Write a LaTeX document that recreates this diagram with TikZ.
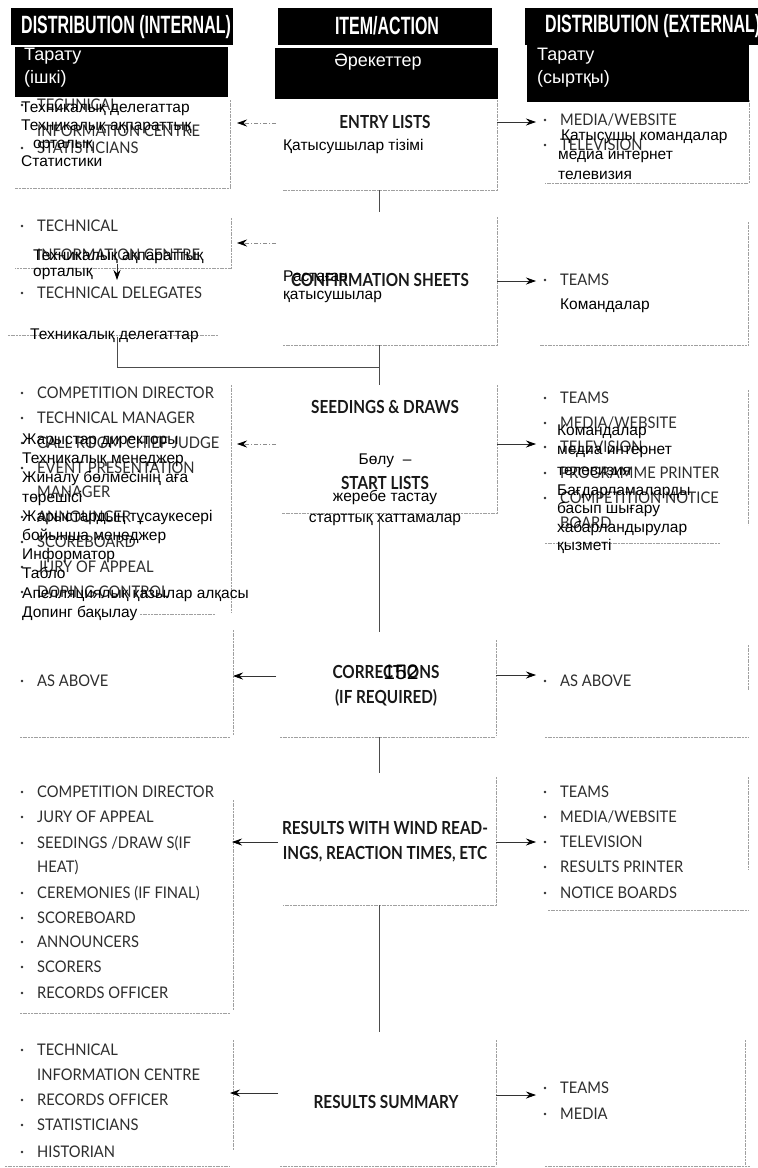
\documentclass[tikz,border=0pt]{standalone}
\usepackage{fontspec}
\setmainfont{Liberation Sans}
\newfontfamily\kzf{Liberation Sans}
\newfontfamily\hdf[FakeStretch=0.64]{Liberation Sans}
\newfontfamily\gsf[FakeStretch=0.92]{Lato}
\newfontfamily\gtf[FakeStretch=0.85]{Lato}
\usetikzlibrary{arrows.meta}
\definecolor{ink}{HTML}{2E2E2E}
\definecolor{rule}{HTML}{A0A0A0}

% list helpers: bulleted line, continuation line, Kazakh line
\newcommand\enli[4]{%
  \node[en] (#1) at (#2,#3+5.5) {#4};
  \node[dot] (#1b) at (#2-15,#3) {};}
\newcommand\enln[4]{\node[en] (#1) at (#2,#3+5.5) {#4};}
\newcommand\kzl[4]{\node[kz] (#1) at (#2,#3) {#4};}

\begin{document}
\begin{tikzpicture}[x=1pt,y=-1pt,
  en/.style={font=\gsf\fontsize{16}{18}\selectfont, text=ink, inner sep=0pt, anchor=base west},
  kz/.style={font=\kzf\fontsize{15.5}{18}\selectfont, text=black, inner sep=0pt, anchor=mid west},
  kzc/.style={kz, anchor=mid},
  ttl/.style={font=\gtf\bfseries\fontsize{18}{20}\selectfont, text=black!90, inner sep=0pt, anchor=base},
  hd/.style={fill=black, inner sep=0pt, anchor=north west},
  hdtext/.style={font=\hdf\bfseries\fontsize{25}{26}\selectfont, text=white, inner sep=0pt},
  hdkz/.style={font=\kzf\fontsize{18}{22}\selectfont, text=white, inner sep=0pt, anchor=mid west},
  dot/.style={circle, fill=ink, inner sep=0pt, minimum size=2.8pt},
  edge/.style={rule, line width=0.6pt, dash pattern=on 2pt off 0.7pt},
  link/.style={black!70, line width=0.6pt},
  arr/.style={black!80, line width=0.7pt, -{Stealth[length=10pt,width=7pt,black]}},
  darr/.style={arr, black!45, dash pattern=on 4pt off 2pt on 1pt off 2pt},
]
\fill[white] (0,0) rectangle (758,1168);
\useasboundingbox (0,0) rectangle (758,1168);

% ---------- column headers ----------
\node[hd, minimum width=222pt, minimum height=37pt] (hL1) at (11,8) {};
\node[hd, minimum width=213pt, minimum height=50pt] (hL2) at (15,47) {};
\node[hd, minimum width=214pt, minimum height=37pt] (hM1) at (278,8) {};
\node[hd, minimum width=223pt, minimum height=51pt] (hM2) at (275,48) {};
\node[hd, minimum width=240pt, minimum height=37pt] (hR1) at (525,8) {};
\node[hd, minimum width=222pt, minimum height=57pt] (hR2) at (527,45) {};

\node[hdtext, anchor=west] (tL1) at (21,27) {DISTRIBUTION (INTERNAL)};
\node[hdtext] (tM1) at (387,26) {ITEM/ACTION};
\node[hdtext, anchor=west] (tR1) at (545,26) {DISTRIBUTION (EXTERNAL)};
\node[hdkz] (tL2a) at (24,58) {Тарату};
\node[hdkz] (tL2b) at (24,81) {(ішкі)};
\node[hdkz, anchor=mid] (tM2) at (378,64) {Әрекеттер};
\node[hdkz] (tR2a) at (537,58) {Тарату};
\node[hdkz] (tR2b) at (537,81) {(сыртқы)};

% ---------- row 1: entry lists ----------
\draw[edge] (230,100) -- (230,188) -- (15,188);
\draw[edge] (497,100) -- (497,190) -- (283,190);
\draw[edge] (749,100) -- (749,183) -- (545,183);

\enli{l1a}{37}{105}{TECHNICAL}
\enln{l1b}{37}{131}{INFORMATION CENTRE}
\enli{l1c}{37}{148}{STATISTICIANS}
\kzl{k1a}{21}{110}{Техникалық делегаттар}
\kzl{k1b}{21}{128}{Техникалық ақпараттық}
\kzl{k1c}{33}{146}{орталық}
\kzl{k1d}{21}{164}{Статистики}

\node[ttl] (m1) at (385,128.5) {ENTRY LISTS};
\kzl{mk1}{283}{148}{Қатысушылар тізімі}

\enli{r1a}{560}{120}{MEDIA/WEBSITE}
\enli{r1b}{560}{145}{TELEVISION}
\kzl{rk1a}{561}{138}{Қатысушы командалар}
\kzl{rk1b}{558}{157}{медиа интернет}
\kzl{rk1c}{558}{177}{телевизия}

\coordinate (a1s) at (276,123); \coordinate (a1t) at (237,123);
\draw[darr] (a1s) -- (a1t);
\coordinate (b1s) at (497,122); \coordinate (b1t) at (536,122);
\draw[arr] (b1s) -- (b1t);

\coordinate (v1s) at (379,190); \coordinate (v1t) at (379,212);
\draw[link] (v1s) -- (v1t);

% ---------- row 2: confirmation sheets ----------
\draw[edge] (231,218) -- (231,268) -- (15,268);
\draw[edge] (8,335) -- (218,335);
\draw[edge] (497,217) -- (497,345) -- (283,345);
\draw[edge] (748,222) -- (748,345) -- (540,345);

\enli{l2a}{37}{226}{TECHNICAL}
\enln{l2b}{37}{255}{INFORMATION CENTRE}
\enli{l2c}{37}{293}{TECHNICAL DELEGATES}
\kzl{k2a}{33}{258}{Техникалық ақпараттық}
\kzl{k2b}{33}{274}{орталық}
\kzl{k2c}{30}{337}{Техникалық делегаттар}

\node[ttl] (m2) at (380,286.5) {CONFIRMATION SHEETS};
\kzl{mk2a}{283}{279}{Растаған}
\kzl{mk2b}{283}{297}{қатысушылар}

\enli{r2a}{560}{280}{TEAMS}
\kzl{rk2a}{560}{307}{Командалар}

\coordinate (a2s) at (276,243); \coordinate (a2t) at (237,243);
\draw[darr] (a2s) -- (a2t);
\coordinate (b2s) at (497,281); \coordinate (b2t) at (536,281);
\draw[arr] (b2s) -- (b2t);

\coordinate (tic) at (117,264); \coordinate (tdl) at (117,280);
\draw[arr] (tic) -- (tdl);
\coordinate (j1) at (117,337); \coordinate (j2) at (117,367); \coordinate (j3) at (379,367);
\draw[link] (j1) -- (j2) -- (j3);
\coordinate (v2s) at (379,345); \coordinate (v2t) at (379,385);
\draw[link] (v2s) -- (v2t);

% ---------- row 3: seedings & draws ----------
\draw[edge] (231,385) -- (231,612);
\draw[edge] (497,385) -- (497,513) -- (282,513);
\draw[edge] (748,390) -- (748,525);
\draw[edge] (545,543) -- (720,543);

\enli{l3a}{37}{393}{COMPETITION DIRECTOR}
\enli{l3b}{37}{418}{TECHNICAL MANAGER}
\enli{l3c}{37}{443}{CALL ROOM CHIEF JUDGE}
\enli{l3d}{37}{468}{EVENT PRESENTATION}
\enln{l3e}{37}{492}{MANAGER}
\enli{l3f}{37}{517}{ANNOUNCER}
\enli{l3g}{37}{542}{SCOREBOARD}
\enli{l3h}{37}{567}{JURY OF APPEAL}
\enli{l3i}{37}{592}{DOPING CONTROL}
\kzl{k3a}{22}{442}{Жарыстар директоры}
\kzl{k3b}{22}{461}{Техникалық менеджер}
\kzl{k3c}{22}{480}{Жиналу бөлмесінің аға}
\kzl{k3d}{22}{500}{төрешісі}
\kzl{k3e}{22}{519}{Жарыстардың тұсаукесері}
\kzl{k3f}{22}{538}{бойынша менеджер}
\kzl{k3g}{22}{557}{Информатор}
\kzl{k3h}{22}{576}{Табло}
\kzl{k3i}{22}{596}{Апелляциялық қазылар алқасы}
\kzl{k3j}{22}{615}{Допинг бақылау}

\node[ttl] (m3) at (385,413.5) {SEEDINGS \& DRAWS};
\node[kzc] (mk3a) at (385,462) {Бөлу\ \ –};
\node[ttl] (m3b) at (385,489.5) {START LISTS};
\node[kzc] (mk3b) at (385,499) {жеребе тастау};
\node[kzc] (mk3c) at (385,520) {старттық хаттамалар};

\enli{r3a}{560}{398}{TEAMS}
\enli{r3b}{560}{423}{MEDIA/WEBSITE}
\enli{r3c}{560}{447}{TELEVISION}
\enli{r3d}{560}{473}{PROGRAMME PRINTER}
\enli{r3e}{560}{498}{COMPETITION NOTICE}
\enln{r3f}{560}{523}{BOARD}
\kzl{rk3a}{557}{433}{Командалар}
\kzl{rk3b}{557}{452}{медиа интернет}
\kzl{rk3c}{557}{473}{телевизия}
\kzl{rk3d}{557}{493}{Бағдарламаларды}
\kzl{rk3e}{557}{511}{басып шығару}
\kzl{rk3f}{557}{530}{хабарландырулар}
\kzl{rk3g}{557}{548}{қызметі}

\coordinate (a3s) at (276,444); \coordinate (a3t) at (237,444);
\draw[darr] (a3s) -- (a3t);
\coordinate (b3s) at (497,444); \coordinate (b3t) at (536,444);
\draw[arr] (b3s) -- (b3t);
\coordinate (v3s) at (379,513); \coordinate (v3t) at (379,632);
\draw[link] (v3s) -- (v3t);

% ---------- row 4: corrections ----------
\draw[edge] (140,614) -- (215,614);
\draw[edge] (233,630) -- (233,735);
\draw[edge] (20,737) -- (230,737);
\draw[edge] (496,640) -- (496,735);
\draw[edge] (280,737) -- (496,737);
\draw[edge] (748,645) -- (748,690);
\draw[edge] (545,737) -- (748,737);

\node[ttl] (m4) at (386,678.5) {CORRECTIONS};
\node[ttl] (m4b) at (386,703.5) {(IF REQUIRED)};
\node[kz, anchor=base, font=\kzf\fontsize{21}{24}\selectfont] (pg) at (401,679) {152};

\enli{l4a}{37}{681}{AS ABOVE}
\enli{r4a}{560}{681}{AS ABOVE}

\coordinate (a4s) at (276,676); \coordinate (a4t) at (233,676);
\draw[arr] (a4s) -- (a4t);
\coordinate (b4s) at (496,675); \coordinate (b4t) at (536,675);
\draw[arr] (b4s) -- (b4t);
\coordinate (v4s) at (379,737); \coordinate (v4t) at (379,773);
\draw[link] (v4s) -- (v4t);

% ---------- row 5: results ----------
\draw[edge] (233,800) -- (233,1010);
\draw[edge] (20,1013) -- (230,1013);
\draw[edge] (496,777) -- (496,905) -- (283,905);
\draw[edge] (748,777) -- (748,870);
\draw[edge] (548,910) -- (748,910);

\node[ttl] (m5) at (385,834.5) {RESULTS WITH WIND READ-};
\node[ttl] (m5b) at (385,859.5) {INGS, REACTION TIMES, ETC};

\enli{l5a}{37}{792}{COMPETITION DIRECTOR}
\enli{l5b}{37}{817}{JURY OF APPEAL}
\enli{l5c}{37}{843}{SEEDINGS /DRAW S(IF}
\enln{l5d}{37}{867}{HEAT)}
\enli{l5e}{37}{893}{CEREMONIES (IF FINAL)}
\enli{l5f}{37}{918}{SCOREBOARD}
\enli{l5g}{37}{942}{ANNOUNCERS}
\enli{l5h}{37}{967}{SCORERS}
\enli{l5i}{37}{993}{RECORDS OFFICER}

\enli{r5a}{560}{792}{TEAMS}
\enli{r5b}{560}{817}{MEDIA/WEBSITE}
\enli{r5c}{560}{842}{TELEVISION}
\enli{r5d}{560}{867}{RESULTS PRINTER}
\enli{r5e}{560}{893}{NOTICE BOARDS}

\coordinate (a5s) at (278,842); \coordinate (a5t) at (232,842);
\draw[arr] (a5s) -- (a5t);
\coordinate (b5s) at (496,842); \coordinate (b5t) at (536,842);
\draw[arr] (b5s) -- (b5t);
\coordinate (v5s) at (379,905); \coordinate (v5t) at (379,1032);
\draw[link] (v5s) -- (v5t);

% ---------- row 6: results summary ----------
\draw[edge] (233,1040) -- (233,1150);
\draw[edge] (496,1040) -- (496,1165);
\draw[edge] (745,1040) -- (745,1165);
\draw[edge] (5,1166) -- (230,1166);
\draw[edge] (280,1166) -- (496,1166);
\draw[edge] (545,1166) -- (750,1166);

\node[ttl] (m6) at (386,1108.5) {RESULTS SUMMARY};

\enli{l6a}{37}{1050}{TECHNICAL}
\enln{l6b}{37}{1075}{INFORMATION CENTRE}
\enli{l6c}{37}{1100}{RECORDS OFFICER}
\enli{l6d}{37}{1125}{STATISTICIANS}
\enli{l6e}{37}{1152}{HISTORIAN}

\enli{r6a}{560}{1088}{TEAMS}
\enli{r6b}{560}{1114}{MEDIA}

\coordinate (a6s) at (278,1093); \coordinate (a6t) at (230,1093);
\draw[arr] (a6s) -- (a6t);
\coordinate (b6s) at (496,1095); \coordinate (b6t) at (536,1095);
\draw[arr] (b6s) -- (b6t);
\end{tikzpicture}
\end{document}
